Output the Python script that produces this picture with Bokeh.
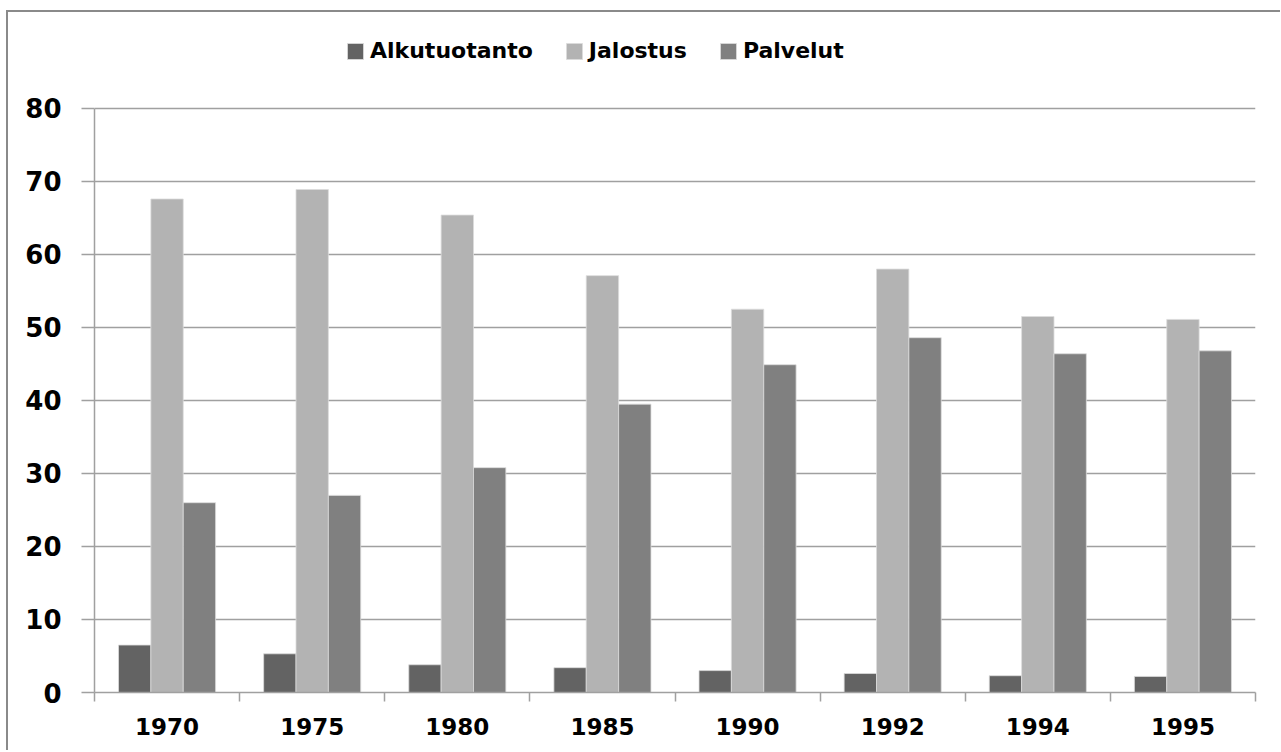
from bokeh.plotting import figure
from bokeh.models import ColumnDataSource, FixedTicker, Legend, LegendItem, Range1d
from bokeh.transform import dodge
from bokeh.embed import file_html
from bokeh.resources import INLINE

years = ["1970", "1975", "1980", "1985", "1990", "1992", "1994", "1995"]
alkutuotanto = [6.5, 5.3, 3.8, 3.4, 3.0, 2.6, 2.3, 2.2]
jalostus = [67.6, 68.9, 65.4, 57.1, 52.5, 58.0, 51.5, 51.1]
palvelut = [26.0, 27.0, 30.8, 39.5, 44.9, 48.6, 46.4, 46.8]
y_ticks = [0, 10, 20, 30, 40, 50, 60, 70, 80]

series_names = ["Alkutuotanto", "Jalostus", "Palvelut"]
series_colors = ["#636363", "#b3b3b3", "#808080"]

n = len(years)
centers = [i + 0.5 for i in range(n)]
boundaries = [float(i) for i in range(n + 1)]

source = ColumnDataSource(dict(x=centers, year=years,
                               Alkutuotanto=alkutuotanto,
                               Jalostus=jalostus,
                               Palvelut=palvelut))

FONT = "DejaVu Sans"
GRID = "#a0a0a0"

# frame extends above the value area so the legend can sit inside it
p = figure(x_range=Range1d(0, n), y_range=Range1d(0, 90.68),
           frame_width=1161, frame_height=662,
           min_border_left=86, min_border_top=18,
           min_border_right=25, min_border_bottom=58,
           output_backend="svg", toolbar_location=None,
           background_fill_color="white", border_fill_color="white",
           outline_line_color=None)
p.styles = {"margin-left": "6px", "margin-top": "10px",
            "border-left": "2px solid #8a8a8a", "border-top": "2px solid #8a8a8a"}

bw = 0.223
offsets = [-bw, 0.0, bw]
renderers = []
for name, color, off in zip(series_names, series_colors, offsets):
    r = p.vbar(x=dodge("x", off, range=p.x_range), top=name, width=bw,
               source=source, fill_color=color, line_color="#dcdcdc",
               line_width=0.8)
    renderers.append(r)

# axes
p.xaxis.ticker = FixedTicker(ticks=centers, minor_ticks=boundaries)
p.xaxis.major_label_overrides = {c: y for c, y in zip(centers, years)}
p.xaxis.major_tick_out = 0
p.xaxis.major_tick_in = 0
p.xaxis.minor_tick_out = 9
p.xaxis.minor_tick_in = 0
p.xaxis.minor_tick_line_color = GRID
p.xaxis.minor_tick_line_width = 1.5
p.xaxis.axis_line_color = GRID
p.xaxis.axis_line_width = 1.5
p.xaxis.major_label_text_font = FONT
p.xaxis.major_label_text_font_style = "bold"
p.xaxis.major_label_text_font_size = "23px"
p.xaxis.major_label_text_color = "black"
p.xaxis.major_label_standoff = 16

p.yaxis.ticker = FixedTicker(ticks=y_ticks, minor_ticks=[])
p.yaxis.bounds = (0, 80)
p.yaxis.major_tick_out = 13
p.yaxis.major_tick_in = 0
p.yaxis.major_tick_line_color = GRID
p.yaxis.major_tick_line_width = 1.5
p.yaxis.axis_line_color = GRID
p.yaxis.axis_line_width = 1.5
p.yaxis.major_label_text_font = FONT
p.yaxis.major_label_text_font_style = "bold"
p.yaxis.major_label_text_font_size = "26px"
p.yaxis.major_label_text_color = "black"
p.yaxis.major_label_standoff = 20

p.xgrid.visible = False
p.ygrid.grid_line_color = GRID
p.ygrid.grid_line_width = 1.5
p.ygrid.ticker = FixedTicker(ticks=y_ticks, minor_ticks=[])

legend = Legend(items=[LegendItem(label=nm, renderers=[r]) for nm, r in zip(series_names, renderers)],
                orientation="horizontal", location=(251, 629),
                glyph_width=20, glyph_height=20, label_standoff=5, spacing=31,
                padding=0, margin=0, border_line_color=None,
                background_fill_alpha=0,
                label_text_font=FONT, label_text_font_style="bold",
                label_text_font_size="22px", label_text_color="black",
                label_height=24)
p.add_layout(legend, "center")

open("out.html", "w").write(file_html(p, INLINE))
